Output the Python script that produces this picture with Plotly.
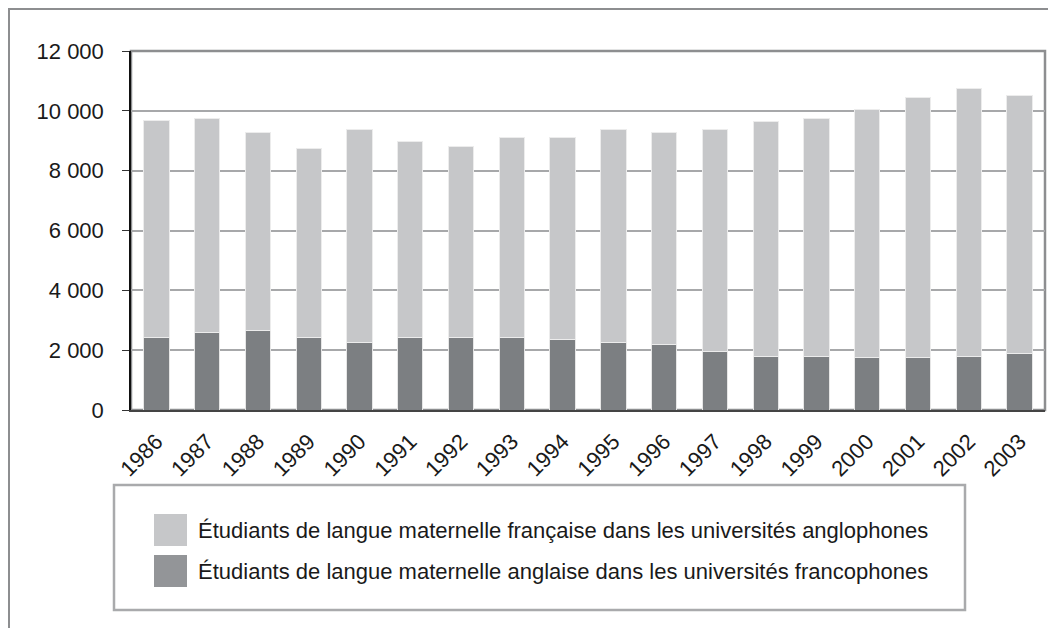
import plotly.graph_objects as go

# Étudiants par année (lecture du graphique)
years = [str(y) for y in range(1986, 2004)]
anglais_francophones = [2430, 2580, 2660, 2430, 2270, 2430, 2430, 2430, 2350,
                        2270, 2200, 1960, 1800, 1800, 1740, 1740, 1800, 1890]
francais_anglophones = [7240, 7180, 6620, 6320, 7090, 6560, 6390, 6690, 6770,
                        7090, 7080, 7400, 7860, 7940, 8310, 8690, 8940, 8630]
legend_labels = [
    "Étudiants de langue maternelle française dans les universités anglophones",
    "Étudiants de langue maternelle anglaise dans les universités francophones",
]

FONT = "Liberation Sans Narrow, Arial Narrow, Liberation Sans, Arial"
LIGHT = "#c6c7c9"
DARK = "#7c7f82"
DARK_SWATCH = "#939598"

fig = go.Figure()
fig.add_trace(go.Bar(x=years, y=anglais_francophones, name=legend_labels[1],
                     marker=dict(color=DARK, line=dict(color="#e6e6e6", width=1))))
fig.add_trace(go.Bar(x=years, y=francais_anglophones, name=legend_labels[0],
                     marker=dict(color=LIGHT, line=dict(color="#ececec", width=1))))

# page has an 8px body margin, so figure coords = screen coords - 8
# plot area on screen: x 131..1045 px, y 51..410 px
def px(x):
    return (x - 131) / 914


def py(y):
    return (410 - y) / 359


shapes = [
    # outer frame (as close to the page corner as the figure allows)
    dict(type="rect", xref="paper", yref="paper", x0=px(9), x1=px(1080),
         y0=py(660), y1=py(9), line=dict(color="#8d8e90", width=2)),
    # border of plot area (right side shows; left/bottom covered by axes)
    dict(type="rect", xref="paper", yref="paper", x0=0, x1=1, y0=0, y1=1,
         layer="below", line=dict(color="#8d8e90", width=2.5)),
    # legend box
    dict(type="rect", xref="paper", yref="paper", x0=px(114), x1=px(965),
         y0=py(610), y1=py(485), line=dict(color="#a9aaac", width=2.5)),
    dict(type="rect", xref="paper", yref="paper", x0=px(154), x1=px(187),
         y0=py(546), y1=py(514), fillcolor=LIGHT, line=dict(width=0)),
    dict(type="rect", xref="paper", yref="paper", x0=px(154), x1=px(187),
         y0=py(587), y1=py(555), fillcolor=DARK_SWATCH, line=dict(width=0)),
]
annotations = [
    dict(xref="paper", yref="paper", x=px(196), y=py(530), text=legend_labels[0],
         showarrow=False, xanchor="left", yanchor="middle",
         font=dict(family=FONT, size=22, color="#1a1a1a")),
    dict(xref="paper", yref="paper", x=px(196), y=py(571), text=legend_labels[1],
         showarrow=False, xanchor="left", yanchor="middle",
         font=dict(family=FONT, size=22, color="#1a1a1a")),
]

fig.update_layout(
    width=1056, height=628,
    margin=dict(l=123, r=19, t=43, b=226),
    barmode="stack", bargap=0.5,
    showlegend=False,
    paper_bgcolor="white", plot_bgcolor="white",
    separators=". ",
    font=dict(family=FONT, size=22, color="#1a1a1a"),
    shapes=shapes, annotations=annotations,
)
fig.update_xaxes(showline=True, linecolor="#444444", linewidth=2,
                 tickangle=-45, ticks="", showgrid=False,
                 ticklabelstandoff=8)
fig.update_yaxes(range=[0, 12000], dtick=2000, tickformat=",d",
                 showline=True, linecolor="#111111", linewidth=1.5,
                 ticks="outside", ticklen=7, tickcolor="#333333",
                 showgrid=True, gridcolor="#a7a8aa", gridwidth=2,
                 zeroline=False, ticklabelstandoff=14)

fig.write_html("out.html")
